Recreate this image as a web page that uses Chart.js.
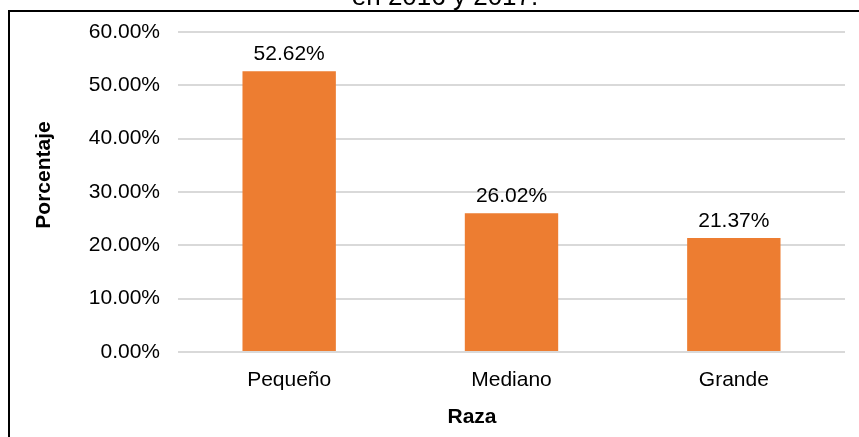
<!DOCTYPE html>
<html>
<head>
<meta charset="utf-8">
<script src="https://cdn.jsdelivr.net/npm/chart.js@4"></script>
<style>
  html, body { margin: 0; padding: 0; background: #fff; }
  #wrap { position: relative; width: 859px; height: 437px; overflow: hidden; }
  #frame { position: absolute; left: 8px; top: 10px; right: -5px; bottom: -5px;
           border-left: 2px solid #000; border-top: 2px solid #000; pointer-events: none; }
</style>
</head>
<body>
<div id="wrap">
  <canvas id="chart" width="859" height="437"></canvas>
  <div id="frame"></div>
</div>
<script>
const categories = ['Pequeño', 'Mediano', 'Grande'];
const values = [52.62, 26.02, 21.37];
const yTicks = [0, 10, 20, 30, 40, 50, 60];
const titleText = 'en 2016 y 2017.';
const yTitle = 'Porcentaje';
const xTitle = 'Raza';

const FONT = '"Liberation Sans", Arial, sans-serif';
const pct = (v) => v.toFixed(2) + '%';

// extra text: cut-off title, axis titles and the bar labels
const textPlugin = {
  id: 'extraText',
  afterDatasetsDraw(chart) {
    const ctx = chart.ctx;
    ctx.save();
    ctx.fillStyle = '#000';
    ctx.textAlign = 'center';
    ctx.textBaseline = 'alphabetic';

    ctx.font = '26px ' + FONT;
    ctx.fillText(titleText, 445, 5);

    ctx.font = '21px ' + FONT;
    const meta = chart.getDatasetMeta(0);
    meta.data.forEach((bar, i) => {
      ctx.fillText(pct(values[i]), bar.x, bar.y - 11);
    });

    ctx.font = 'bold 21px ' + FONT;
    ctx.fillText(xTitle, 472, 423);

    ctx.translate(44, 175);
    ctx.rotate(-Math.PI / 2);
    ctx.textBaseline = 'middle';
    ctx.fillText(yTitle, 0, 0);
    ctx.restore();
  }
};

new Chart(document.getElementById('chart'), {
  type: 'bar',
  data: {
    labels: categories,
    datasets: [{
      data: values,
      backgroundColor: '#ED7D31',
      categoryPercentage: 1,
      barPercentage: 0.42
    }]
  },
  options: {
    responsive: false,
    animation: false,
    layout: { padding: { left: 0, right: 14, top: 32, bottom: 0 } },
    plugins: {
      legend: { display: false },
      tooltip: { enabled: false }
    },
    scales: {
      x: {
        grid: { display: false },
        border: { display: false },
        ticks: { color: '#000', font: { family: FONT, size: 21 }, padding: 8 },
        afterFit: (scale) => { scale.height = 85; }
      },
      y: {
        min: 0,
        max: 60,
        afterBuildTicks: (scale) => { scale.ticks = yTicks.map(v => ({ value: v })); },
        grid: { color: '#d9d9d9', lineWidth: 2, drawTicks: false },
        border: { display: false },
        ticks: { color: '#000', font: { family: FONT, size: 21 }, padding: 18,
                 callback: (v) => pct(v) },
        afterFit: (scale) => { scale.width = 178; }
      }
    }
  },
  plugins: [textPlugin]
});
</script>
</body>
</html>
